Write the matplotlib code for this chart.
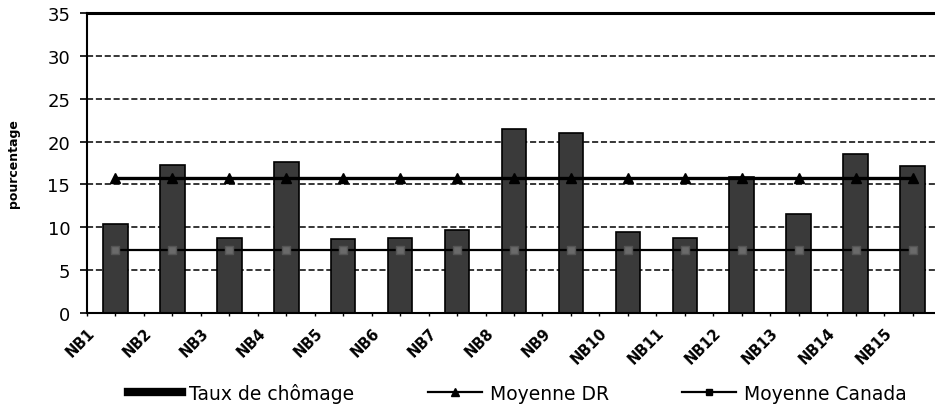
import matplotlib
matplotlib.use("Agg")
import matplotlib.pyplot as plt
from matplotlib.lines import Line2D
import numpy as np

# data
categories = ["NB1", "NB2", "NB3", "NB4", "NB5", "NB6", "NB7", "NB8",
              "NB9", "NB10", "NB11", "NB12", "NB13", "NB14", "NB15"]
taux_chomage = [10.4, 17.3, 8.7, 17.6, 8.6, 8.7, 9.7, 21.5,
                21.0, 9.4, 8.7, 15.9, 11.5, 18.6, 17.1]
moyenne_dr = [15.7] * 15
moyenne_canada = [7.4] * 15

plt.rcParams['font.family'] = ['DejaVu Sans']

fig = plt.figure(figsize=(9.35, 4.06), dpi=100)
ax = fig.add_axes([87 / 935, 92 / 406, 854 / 935, 300 / 406])

x = np.arange(len(categories))

# bars
ax.bar(x, taux_chomage, width=0.43, color='#3a3a3a', edgecolor='black',
       linewidth=1.2, zorder=2)

# average lines
ax.plot(x, moyenne_dr, color='black', linewidth=2.4, marker='^',
        markersize=7, zorder=3)
ax.plot(x, moyenne_canada, color='black', linewidth=1.6, marker='s',
        markersize=5.5, markerfacecolor='#6a6a6a', markeredgecolor='#555555',
        zorder=3)

# axes limits and grid
ax.set_xlim(-0.5, len(categories) - 0.5)
ax.set_ylim(0, 35)
ax.set_yticks(np.arange(0, 36, 5))
for yv in range(5, 35, 5):
    ax.axhline(yv, color='black', linestyle=(0, (4, 1.8)), linewidth=1.1,
               zorder=1)

# x ticks sit on category boundaries, labels hang from them
ax.set_xticks(np.arange(-0.5, len(categories) - 0.5, 1.0))
ax.set_xticks(x, minor=True)
ax.set_xticklabels(categories, fontsize=10.5, fontweight='bold')
for lab in ax.get_xticklabels():
    lab.set_rotation(45)
    lab.set_ha('right')
    lab.set_va('top')
    lab.set_rotation_mode('anchor')
ax.tick_params(axis='x', which='both', direction='out', length=2.5,
               width=1, pad=6)
ax.tick_params(axis='y', direction='out', length=5, width=1.2, pad=7,
               labelsize=13)

for side in ['left', 'bottom']:
    ax.spines[side].set_linewidth(1.5)
ax.spines['top'].set_linewidth(2.2)
ax.spines['right'].set_visible(False)

ax.set_ylabel('pourcentage', fontsize=9, fontweight='bold', labelpad=20)

handles = [
    Line2D([], [], color='black', linewidth=6),
    Line2D([], [], color='black', linewidth=1.6, marker='^', markersize=6),
    Line2D([], [], color='black', linewidth=1.6, marker='s', markersize=5),
]
labels = ['Taux de chômage', 'Moyenne DR', 'Moyenne Canada']
fig.legend(handles, labels, loc='center', bbox_to_anchor=(517 / 935, 12 / 406),
           ncol=3, frameon=False, fontsize=13.5, handlelength=2.9,
           handletextpad=0.4, columnspacing=3.9)

fig.savefig('out.png', dpi=100)
